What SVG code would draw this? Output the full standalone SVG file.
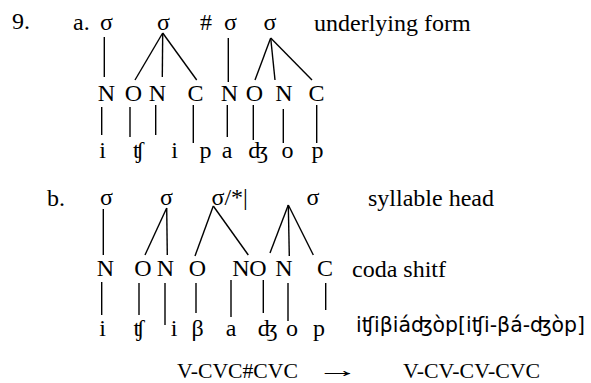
<svg xmlns="http://www.w3.org/2000/svg" width="591" height="383" viewBox="0 0 591 383">
<style>
text{font-family:"Liberation Serif","DejaVu Serif",serif;font-size:24px;fill:#000}
.c{text-anchor:middle}
.sm{font-size:21.5px}
.ipa{font-family:"DejaVu Sans","Liberation Sans",sans-serif;font-size:21px}
line{stroke:#000;stroke-width:1.4}
</style>
<rect width="591" height="383" fill="#fff"/>
<g id="labels">
<text x="12" y="29">9.</text>
<text x="73" y="30">a.</text>
<text x="47" y="206">b.</text>
<text x="314" y="31">underlying form</text>
<text x="368" y="206">syllable head</text>
<text x="352" y="277">coda shitf</text>
<text class="ipa" x="356" y="332" textLength="229" lengthAdjust="spacingAndGlyphs">iʧiβiáʤòp[iʧi-βá-ʤòp]</text>
<text class="sm" x="177" y="378" textLength="121" lengthAdjust="spacingAndGlyphs">V-CVC#CVC</text>
<text class="sm" transform="translate(337.5,377) scale(2,1)" text-anchor="middle">→</text>
<text class="sm" x="403" y="378" textLength="137" lengthAdjust="spacingAndGlyphs">V-CV-CV-CVC</text>
</g>
<g id="tree-a">
<g id="a-syl"><text class="c" x="106.5" y="30">σ</text><text class="c" x="163.5" y="30">σ</text><text class="c" x="206" y="30">#</text><text class="c" x="230.5" y="30">σ</text><text class="c" x="270" y="30">σ</text></g>
<g id="a-skel"><text class="c" x="106.5" y="101">N</text><text class="c" x="133.5" y="101">O</text><text class="c" x="157.5" y="101">N</text><text class="c" x="195.5" y="101">C</text><text class="c" x="229.5" y="101">N</text><text class="c" x="254.5" y="101">O</text><text class="c" x="284" y="101">N</text><text class="c" x="316.5" y="101">C</text></g>
<g id="a-seg"><text class="c" x="102.5" y="158">i</text><text class="c" x="138.5" y="158">ʧ</text><text class="c" x="174.5" y="158">i</text><text class="c" x="205.5" y="158">p</text><text class="c" x="227" y="158">a</text><text class="c" x="258.5" y="158">ʤ</text><text class="c" x="287.5" y="158">o</text><text class="c" x="317.5" y="158">p</text></g>
</g>
<g id="tree-b">
<g id="b-syl"><text class="c" x="106.5" y="205">σ</text><text class="c" x="166.5" y="205">σ</text><text x="211.5" y="205">σ/*|</text><text class="c" x="313" y="205">σ</text></g>
<g id="b-skel"><text class="c" x="105.5" y="276">N</text><text class="c" x="143" y="276">O</text><text class="c" x="165.5" y="276">N</text><text class="c" x="197.5" y="276">O</text><text class="c" x="241" y="276">N</text><text class="c" x="258" y="276">O</text><text class="c" x="284" y="276">N</text><text class="c" x="325" y="276">C</text></g>
<g id="b-seg"><text class="c" x="102.5" y="336">i</text><text class="c" x="139" y="336">ʧ</text><text class="c" x="174" y="336">i</text><text class="c" x="197.5" y="336">β</text><text class="c" x="231" y="336">a</text><text class="c" x="268" y="336">ʤ</text><text class="c" x="292" y="336">o</text><text class="c" x="319" y="336">p</text></g>
</g>
<g id="connectors">
<line x1="104.3" y1="37" x2="104.3" y2="77"/>
<line x1="162.7" y1="33" x2="135" y2="80"/>
<line x1="162.7" y1="33" x2="162.3" y2="77"/>
<line x1="162.7" y1="33" x2="196.7" y2="80"/>
<line x1="228.3" y1="38" x2="228.3" y2="82"/>
<line x1="270.7" y1="38" x2="255" y2="80"/>
<line x1="270.7" y1="38" x2="275" y2="80"/>
<line x1="270.7" y1="38" x2="312" y2="80"/>
<line x1="101.7" y1="107" x2="101.7" y2="135"/>
<line x1="130" y1="107" x2="130" y2="137"/>
<line x1="155.7" y1="105" x2="155.7" y2="135"/>
<line x1="193.3" y1="105" x2="193.3" y2="143"/>
<line x1="227.3" y1="105" x2="227.3" y2="137"/>
<line x1="253.3" y1="105" x2="253.3" y2="140"/>
<line x1="283.3" y1="109" x2="283.3" y2="143"/>
<line x1="316.7" y1="105" x2="316.7" y2="143"/>
<line x1="103.3" y1="209" x2="103.3" y2="255"/>
<line x1="166.7" y1="208" x2="145" y2="255"/>
<line x1="166.7" y1="208" x2="167.3" y2="255"/>
<line x1="213.3" y1="206" x2="195" y2="256"/>
<line x1="213.3" y1="206" x2="248.3" y2="255"/>
<line x1="288.3" y1="205" x2="270" y2="253"/>
<line x1="288.3" y1="205" x2="289.3" y2="256"/>
<line x1="288.3" y1="205" x2="313.3" y2="255"/>
<line x1="101.7" y1="282" x2="101.7" y2="315"/>
<line x1="139" y1="283" x2="139" y2="315"/>
<line x1="165" y1="283" x2="165" y2="325"/>
<line x1="196" y1="283" x2="196" y2="313"/>
<line x1="231" y1="280" x2="231" y2="317"/>
<line x1="263.3" y1="280" x2="263.3" y2="313"/>
<line x1="288" y1="283" x2="288" y2="321"/>
<line x1="325.7" y1="283" x2="325.7" y2="310"/>
</g>
</svg>
